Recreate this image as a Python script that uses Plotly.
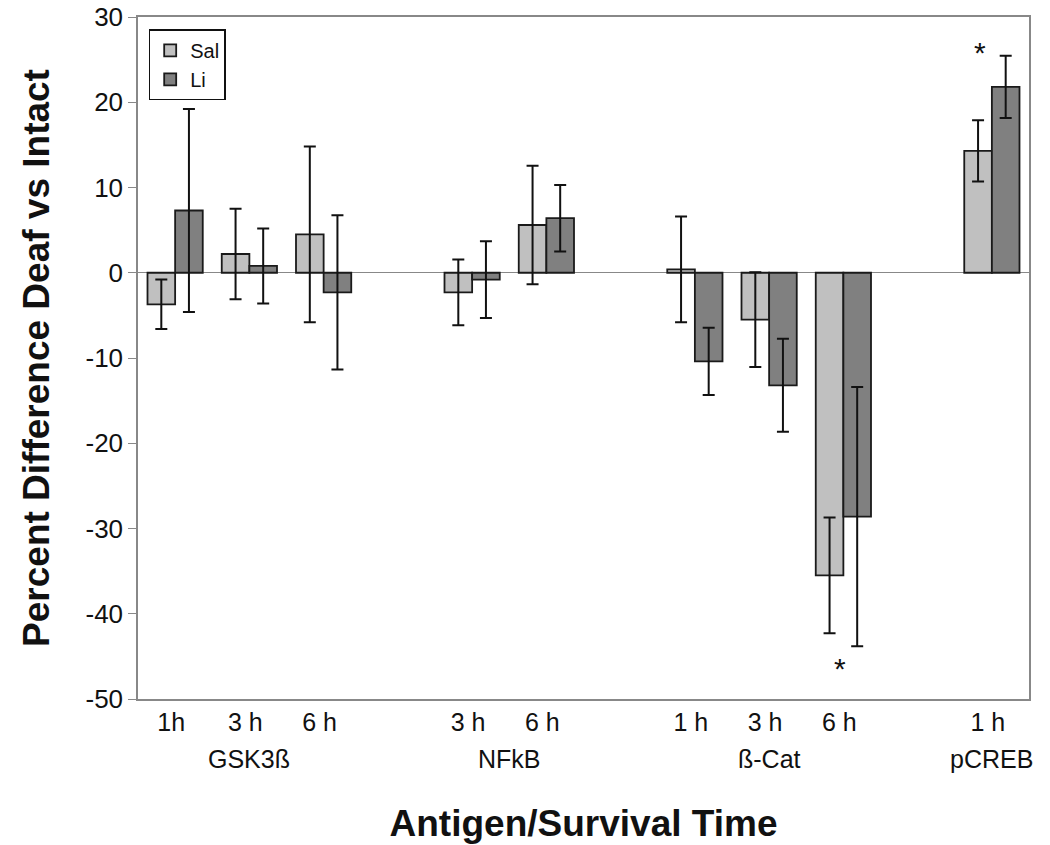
import plotly.graph_objects as go

# ---- data ----
groups = ["GSK3ß", "NFkB", "ß-Cat", "pCREB"]
times = [["1h", "3 h", "6 h"], ["3 h", "6 h"], ["1 h", "3 h", "6 h"], ["1 h"]]
sal = [-3.7, 2.2, 4.5, -2.3, 5.6, 0.4, -5.5, -35.5, 14.3]
sal_err = [2.9, 5.3, 10.3, 3.85, 6.95, 6.2, 5.55, 6.8, 3.6]
li = [7.3, 0.8, -2.3, -0.8, 6.4, -10.4, -13.2, -28.6, 21.8]
li_err = [11.9, 4.4, 9.05, 4.5, 3.9, 3.95, 5.45, 15.2, 3.65]
y_ticks = [-50, -40, -30, -20, -10, 0, 10, 20, 30]
star_index = [7, 8]
star_value = [-46.4, 25.8]

FONT = "Liberation Sans, Arial, sans-serif"

# positions: one empty slot between antigen groups
pos, labels, centers = [], [], []
p = 0
for g, ts in zip(groups, times):
    start = p
    for t in ts:
        pos.append(p)
        labels.append(t)
        p += 1
    centers.append((start + p - 1) / 2)
    p += 1
xmax = p - 1.5

fig = go.Figure()
fig.add_trace(go.Bar(
    x=pos, y=sal, name="Sal",
    marker=dict(color="#c0c0c0", line=dict(color="#1a1a1a", width=1.8)),
    error_y=dict(type="data", array=sal_err, visible=True, color="#111", thickness=2, width=6),
))
fig.add_trace(go.Bar(
    x=pos, y=li, name="Li",
    marker=dict(color="#808080", line=dict(color="#1a1a1a", width=1.8)),
    error_y=dict(type="data", array=li_err, visible=True, color="#111", thickness=2, width=6),
))

annotations = []
for g, c in zip(groups, centers):
    annotations.append(dict(x=c, y=0, xref="x", yref="paper", text=g, showarrow=False,
                            yshift=-59.5, yanchor="middle",
                            font=dict(family=FONT, size=25, color="#111")))
for i, v in zip(star_index, star_value):
    annotations.append(dict(x=pos[i], y=v, xref="x", yref="y", text="*", showarrow=False,
                            xshift=-3 if i == 7 else -12, yanchor="middle",
                            font=dict(family=FONT, size=30, color="#111")))

fig.update_layout(
    width=1050, height=845,
    margin=dict(l=137.5, r=21, t=16.5, b=145.5),
    paper_bgcolor="white", plot_bgcolor="white",
    barmode="group", bargap=0.256, bargroupgap=0,
    font=dict(family=FONT, color="#111"),
    showlegend=True,
    legend=dict(x=0.012, y=0.982, xanchor="left", yanchor="top",
                bgcolor="white", bordercolor="#111", borderwidth=1.5,
                font=dict(family=FONT, size=20, color="#111"),
                itemwidth=30, tracegroupgap=0),
    annotations=annotations,
    xaxis=dict(
        range=[-0.5, xmax], tickvals=pos, ticktext=labels,
        showgrid=False, zeroline=False, ticks="", automargin=False,
        ticklabelshift=-4,
        showline=True, linecolor="#888", linewidth=1.5, mirror=True,
        tickfont=dict(family=FONT, size=25, color="#111"),
        title=dict(text="<b>Antigen/Survival Time</b>", standoff=75,
                   font=dict(family=FONT, size=37, color="#111")),
    ),
    yaxis=dict(
        range=[-50, 30], tickvals=y_ticks, ticktext=[str(v) for v in y_ticks],
        automargin=False, ticklabeloverflow="allow",
        showgrid=False, zeroline=True, zerolinecolor="#888", zerolinewidth=1.2,
        ticks="outside", ticklen=8, tickcolor="#888", tickwidth=1.2,
        showline=True, linecolor="#888", linewidth=1.5, mirror=True,
        tickfont=dict(family=FONT, size=26, color="#111"),
        title=dict(text="<b>Percent Difference Deaf vs Intact</b>", standoff=25,
                   font=dict(family=FONT, size=37, color="#111")),
    ),
)

# remove the default page margin so the figure fills the 1050x845 window exactly
fig.write_html("out.html", config={"displayModeBar": False},
               post_script="document.body.style.margin='0';")
